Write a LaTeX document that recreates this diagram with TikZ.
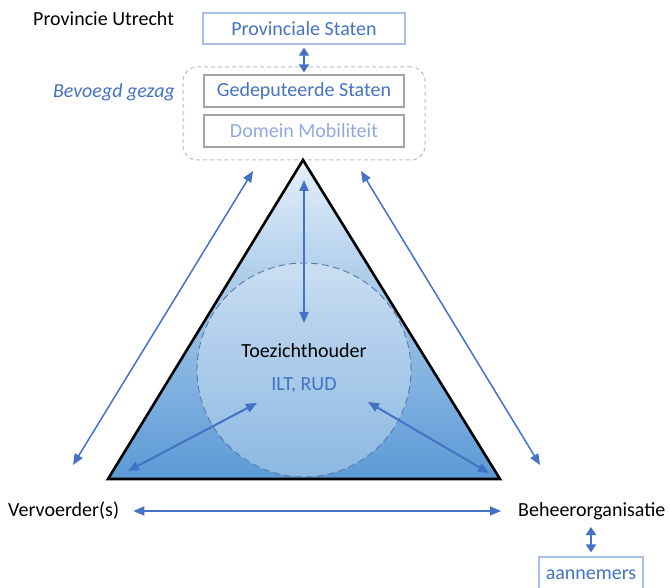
\documentclass[tikz,border=0pt]{standalone}
\usepackage{fontspec}
\setmainfont{Carlito}
\usetikzlibrary{arrows.meta,shapes.geometric,calc}
\definecolor{accblue}{HTML}{4472C4}
\definecolor{boxline}{HTML}{A9BEE3}
\definecolor{greyline}{HTML}{A0A4AC}
\definecolor{lightblue}{HTML}{8FAADC}
\definecolor{dashgrey}{HTML}{B4BFD0}
\definecolor{triTop}{HTML}{E6F0FA}
\definecolor{triBot}{HTML}{5B9AD6}
\definecolor{circline}{HTML}{5A78A8}
\tikzset{
  bluebox/.style={draw=boxline, line width=1.2pt, minimum width=202pt, minimum height=31pt, text=accblue, inner sep=0pt},
  greybox/.style={draw=greyline, line width=1.2pt, minimum width=200pt, minimum height=32pt, inner sep=0pt},
  dblarrow/.style={draw=accblue, line width=1.5pt, {Triangle[length=11pt,width=9pt]}-{Triangle[length=11pt,width=9pt]}},
  thickarrow/.style={draw=accblue, line width=2.6pt, {Triangle[length=8pt,width=10pt]}-{Triangle[length=8pt,width=10pt]}},
  label/.style={inner sep=0pt}
}
\begin{document}
\begin{tikzpicture}[x=1pt,y=-1pt,font=\fontsize{20}{24}\selectfont]
\useasboundingbox (0,0) rectangle (670,588);
% top
\node[label, anchor=west] (pu) at (33,19) {Provincie Utrecht};
\node[bluebox] (ps) at (304,28.5) {Provinciale Staten};
\node[draw=dashgrey, dash pattern=on 4pt off 3pt, line width=1pt, rounded corners=14pt, minimum width=242pt, minimum height=93pt] (bg) at (304,113.5) {};
\node[greybox, text=accblue] (gs) at (304,91) {Gedeputeerde Staten};
\node[greybox, text=lightblue] (dm) at (304,131) {Domein Mobiliteit};
\node[label, anchor=east, text=accblue, font=\fontsize{20}{24}\selectfont\itshape] (bv) at (175,92) {Bevoegd gezag};
\draw[thickarrow] ($(ps.south)+(0,3)$) -- ($(gs.north)+(0,-2)$);
% triangle
\coordinate (apex) at (303,160);
\coordinate (bl) at (108,479);
\coordinate (br) at (500,479);
\shade[top color=triTop, bottom color=triBot, middle color=triTop!45!triBot] (apex) -- (bl) -- (br) -- cycle;
\node[circle, draw=circline, dash pattern=on 7pt off 4pt, line width=0.9pt, fill=white, fill opacity=0.3, draw opacity=1, minimum size=214pt, inner sep=0pt] (circ) at (304,370) {};
\draw[line width=2.6pt, line join=miter] (apex) -- (bl) -- (br) -- cycle;
\node[label] (tz) at (304,351) {Toezichthouder};
\node[label, text=accblue] (ilt) at (304,385) {ILT, RUD};
\coordinate (ia1) at (304,180);
\coordinate (ia2) at (304,323);
\coordinate (il1) at (257,403);
\coordinate (il2) at (128,471);
\coordinate (ir1) at (368,402);
\coordinate (ir2) at (489,473);
\draw[dblarrow, line width=2pt] (ia1) -- (ia2);
\draw[dblarrow, line width=2pt] (il1) -- (il2);
\draw[dblarrow, line width=2pt] (ir1) -- (ir2);
% outer arrows
\coordinate (ol1) at (253,171);
\coordinate (ol2) at (73,465);
\coordinate (or1) at (361,171);
\coordinate (or2) at (540,465);
\draw[dblarrow] (ol1) -- (ol2);
\draw[dblarrow] (or1) -- (or2);
% bottom
\node[label, anchor=west] (vv) at (8,511) {Vervoerder(s)};
\node[label, anchor=west] (bo) at (518,511) {Beheerorganisatie};
\draw[dblarrow] ($(vv.east)+(14,0)$) -- ($(bo.west)+(-17,0)$);
\node[draw=boxline, line width=1.2pt, text=accblue, minimum width=104pt, minimum height=36pt, inner sep=0pt] (an) at (591,575) {aannemers};
\draw[thickarrow] (591,527) -- ($(an.north)+(0,-4)$);
\end{tikzpicture}
\end{document}
